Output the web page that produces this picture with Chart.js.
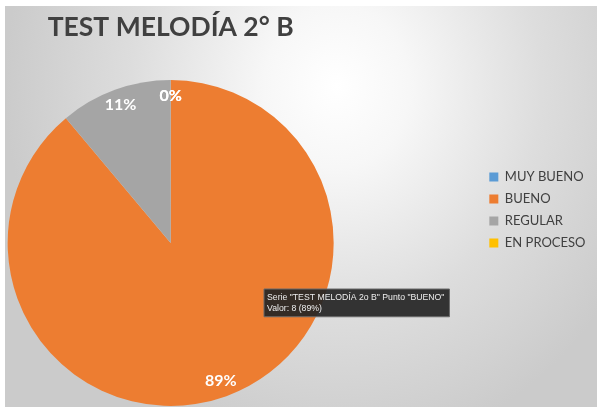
<!DOCTYPE html>
<html>
<head>
<meta charset="utf-8">
<script src="https://cdn.jsdelivr.net/npm/chart.js@4.4.1/dist/chart.umd.min.js"></script>
<style>
  html,body{margin:0;padding:0;background:#fff;}
  #wrap{position:relative;width:597px;height:407px;overflow:hidden;}
  #bg{position:absolute;left:5px;top:6px;width:592px;height:401px;
      background:radial-gradient(ellipse 56% 92% at 56% 20%, #ffffff 0%, #f7f7f7 22%, #dddddd 62%, #cbcbcb 100%);}
  /* the canvas sticks out on the left so the pie sits left of centre, as in the original */
  #chart{position:absolute;left:-139px;top:0;}
</style>
</head>
<body>
<div id="wrap">
  <div id="bg"></div>
  <canvas id="chart" width="736" height="407"></canvas>
</div>
<script>
// data
const CHART_TITLE = "TEST MELODÍA 2° B";
const SERIES_NAME = "TEST MELODÍA 2o B";
const categories = ["MUY BUENO", "BUENO", "REGULAR", "EN PROCESO"];
const values = [0, 8, 1, 0];
const colors = ["#5B9BD5", "#ED7D31", "#A5A5A5", "#FFC000"];

const total = values.reduce((a, b) => a + b, 0);
const pct = v => Math.round(v / total * 100);

// percent labels inside the slices, like Excel data labels
const sliceLabels = {
  id: "sliceLabels",
  afterDatasetsDraw(chart) {
    const ctx = chart.ctx;
    const meta = chart.getDatasetMeta(0);
    ctx.save();
    ctx.font = "bold 16px Lato";
    ctx.fillStyle = "#ffffff";
    ctx.textAlign = "center";
    ctx.textBaseline = "middle";
    meta.data.forEach((arc, i) => {
      const p = arc.getProps(["x", "y", "startAngle", "endAngle", "outerRadius"], true);
      const mid = (p.startAngle + p.endAngle) / 2;
      const r = p.outerRadius * 0.9;
      ctx.fillText(pct(values[i]) + "%", p.x + Math.cos(mid) * r, p.y + Math.sin(mid) * r);
    });
    ctx.restore();
  }
};

Chart.Tooltip.positioners.pinned = function(items, eventPosition) {
  return eventPosition;
};

const chart = new Chart(document.getElementById("chart").getContext("2d"), {
  type: "pie",
  data: {
    labels: categories,
    datasets: [{
      label: SERIES_NAME,
      data: values,
      backgroundColor: colors,
      borderWidth: 0,
      hoverOffset: 0
    }]
  },
  options: {
    responsive: false,
    animation: false,
    events: [],
    layout: {
      padding: {left: 0, right: 1.5, top: 14, bottom: 1}
    },
    plugins: {
      title: {
        display: true,
        text: CHART_TITLE,
        fullSize: false,
        color: "#404040",
        font: {family: "Lato", size: 26.5, weight: "bold", lineHeight: 1},
        padding: {top: 0, bottom: 39.5}
      },
      legend: {
        display: true,
        position: "right",
        align: "center",
        labels: {
          boxWidth: 9,
          boxHeight: 9,
          padding: 9,
          color: "#404040",
          font: {family: "Lato", size: 13}
        }
      },
      tooltip: {
        enabled: true,
        position: "pinned",
        xAlign: "left",
        yAlign: "top",
        caretSize: 0,
        caretPadding: 0,
        cornerRadius: 0,
        displayColors: false,
        backgroundColor: "rgba(38,38,38,0.93)",
        borderColor: "#6a6a6a",
        borderWidth: 1,
        titleColor: "#eeeeee",
        bodyColor: "#eeeeee",
        titleFont: {family: "Liberation Sans", size: 8.7, weight: "normal", lineHeight: 1.25},
        bodyFont: {family: "Liberation Sans", size: 8.7, lineHeight: 1.25},
        titleMarginBottom: 0,
        bodySpacing: 0,
        padding: {left: 3, right: 5, top: 3, bottom: 3},
        callbacks: {
          title: items => 'Serie "' + SERIES_NAME + '" Punto "' + items[0].label + '"',
          label: item => "Valor: " + item.raw + " (" + pct(item.raw) + "%)"
        }
      }
    }
  },
  plugins: [sliceLabels]
});

// tooltip shown on the BUENO slice, as in the screenshot (canvas is offset by 139px)
chart.tooltip.setActiveElements([{datasetIndex: 0, index: 1}], {x: 264 + 139, y: 289});
chart.update();
</script>
</body>
</html>
